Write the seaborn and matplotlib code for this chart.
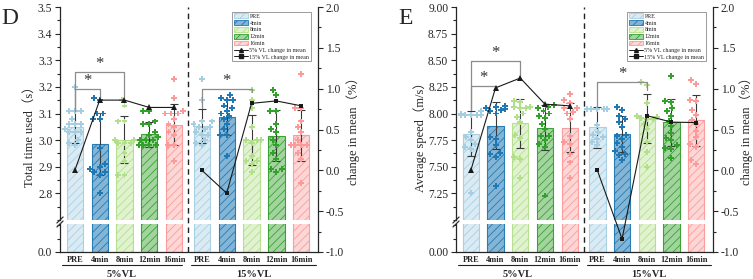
import numpy as np
import pandas as pd
import matplotlib
matplotlib.use("Agg")
import matplotlib.pyplot as plt
import matplotlib.transforms as mtransforms
from matplotlib.patches import Patch
from matplotlib.lines import Line2D
from matplotlib.ticker import MultipleLocator, FixedLocator, FormatStrFormatter
import seaborn as sns

# ---------------- DATA ----------------
conds = ["PRE", "4min", "8min", "12min", "16min"]
groups = ["5%VL", "15%VL"]
xpos_5 = [0, 1, 2, 3, 4]
xpos_15 = [5.12, 6.12, 7.12, 8.12, 9.12]

# panel D: total time used (s)
time_mean_5 = [3.049, 2.986, 3.002, 3.022, 3.058]
time_sd_5 = [0.060, 0.117, 0.087, 0.047, 0.077]
time_mean_15 = [3.053, 3.086, 3.000, 3.017, 3.018]
time_sd_15 = [0.065, 0.067, 0.093, 0.097, 0.095]
time_chg_5 = [0.0, 0.86, 0.86, 0.77, 0.77]
time_chg_15 = [0.0, -0.28, 0.82, 0.85, 0.79]
time_pts_5 = [
    [3.20, 3.11, 3.11, 3.11, 3.08, 3.06, 3.06, 3.06, 3.04, 3.03, 3.03, 3.03, 3.00, 2.99, 2.98],
    [3.16, 3.15, 3.10, 3.10, 3.08, 3.08, 2.97, 2.91, 2.90, 2.89, 2.88, 2.88, 2.87, 2.80],
    [3.15, 3.13, 3.07, 3.07, 3.00, 3.00, 2.99, 2.99, 2.99, 2.95, 2.92, 2.87, 2.87],
    [3.11, 3.11, 3.07, 3.06, 3.06, 3.03, 3.02, 3.01, 3.00, 3.00, 3.00, 2.98, 2.98, 2.98, 2.98],
    [3.23, 3.16, 3.11, 3.10, 3.10, 3.10, 3.08, 3.06, 3.05, 3.03, 3.02, 2.98, 2.98, 2.92],
]
time_pts_15 = [
    [3.23, 3.15, 3.07, 3.07, 3.06, 3.05, 3.05, 3.04, 3.03, 3.02, 3.02, 3.00, 2.99, 2.98],
    [3.17, 3.16, 3.15, 3.15, 3.13, 3.12, 3.11, 3.10, 3.09, 3.08, 3.06, 3.04, 3.02, 3.02, 2.94],
    [3.19, 3.15, 3.12, 3.05, 3.00, 3.00, 3.00, 2.99, 2.94, 2.92, 2.92, 2.91, 2.88],
    [3.19, 3.17, 3.11, 3.11, 3.06, 3.04, 3.03, 3.00, 2.98, 2.95, 2.93, 2.89, 2.89, 2.88],
    [3.25, 3.12, 3.12, 3.07, 3.05, 3.03, 3.00, 2.98, 2.98, 2.98, 2.98, 2.95, 2.93, 2.84],
]
# (from idx, to idx, top, bottom at from, bottom at to)
time_brackets = [(0, 1, 3.193, 3.11, 3.16), (0, 2, 3.257, 3.11, 3.16), (5, 7, 3.193, 3.12, 3.18)]

# panel E: average speed (m/s)
speed_mean_5 = [7.810, 7.884, 7.907, 7.866, 7.866]
speed_sd_5 = [0.21, 0.22, 0.228, 0.21, 0.228]
speed_mean_15 = [7.869, 7.806, 7.954, 7.916, 7.938]
speed_sd_15 = [0.19, 0.17, 0.23, 0.22, 0.24]
speed_chg_5 = [0.0, 1.01, 1.13, 0.81, 0.79]
speed_chg_15 = [0.0, -0.84, 0.67, 0.59, 0.585]
speed_pts_5 = [
    [8.02, 8.00, 7.99, 7.99, 7.99, 7.99, 7.99, 7.83, 7.78, 7.75, 7.71, 7.69, 7.67, 7.25],
    [8.07, 8.06, 8.05, 8.05, 8.04, 8.03, 8.02, 8.00, 7.78, 7.76, 7.70, 7.63, 7.62, 7.59, 7.32],
    [8.12, 8.11, 8.06, 8.06, 8.05, 8.05, 8.00, 7.97, 7.92, 7.80, 7.77, 7.59, 7.57, 7.39],
    [8.08, 8.06, 8.05, 8.02, 8.00, 7.98, 7.96, 7.90, 7.85, 7.79, 7.79, 7.75, 7.71, 7.69, 7.23],
    [8.18, 8.13, 8.10, 8.05, 8.05, 8.01, 8.00, 7.95, 7.79, 7.73, 7.71, 7.62, 7.54, 7.39],
]
speed_pts_15 = [
    [8.04, 8.04, 8.04, 8.04, 8.04, 8.04, 7.89, 7.83, 7.80, 7.78, 7.76, 7.73, 7.70],
    [8.06, 8.03, 7.98, 7.95, 7.92, 7.87, 7.80, 7.79, 7.76, 7.72, 7.69, 7.65, 7.62, 7.61, 7.56],
    [8.30, 8.27, 8.10, 7.98, 7.97, 7.96, 7.95, 7.95, 7.90, 7.85, 7.73, 7.64, 7.50],
    [8.35, 8.12, 8.11, 8.05, 8.02, 7.98, 7.93, 7.88, 7.82, 7.77, 7.75, 7.70, 7.68, 7.67, 7.58],
    [8.31, 8.28, 8.13, 8.12, 8.03, 7.99, 7.94, 7.90, 7.84, 7.78, 7.71, 7.69, 7.56, 7.53],
]
speed_brackets = [(0, 1, 8.26, 8.03, 8.25), (0, 2, 8.49, 8.03, 8.34), (5, 7, 8.30, 8.06, 8.22)]

# ---------------- STYLE ----------------
W, H = 753, 279
sns.set_style("ticks")
plt.rcParams["font.family"] = ["Liberation Serif", "DejaVu Serif"]
plt.rcParams["hatch.linewidth"] = 0.6
plt.rcParams["axes.linewidth"] = 0.9

pal = sns.color_palette("Paired", 5)
face_alpha = [0.40, 0.55, 0.40, 0.45, 0.40]
XLIM = (-0.6, 9.8)
SPLIT = (xpos_5[-1] + xpos_15[0]) / 2
LABEL_FONT = ["Liberation Serif", "Noto Sans CJK SC"]


def rect(l, r, top, bot):
    return [l / W, 1 - bot / H, (r - l) / W, (bot - top) / H]


def style_bars(ax, xpos):
    for p in ax.patches:
        cx = p.get_x() + p.get_width() / 2
        i = int(np.argmin(np.abs(np.array(xpos) - cx))) % 5
        c = pal[i]
        p.set_facecolor((*c, face_alpha[i]))
        p.set_edgecolor((*c, 0.95))
        p.set_linewidth(0.8)
        p.set_hatch("////")


def draw_panel(l, r, letter, ylabel, ylab_dx, means, sds, pts, chg5, chg15,
               ylim_up, ylim_lo, major, minor, fmt, lo_minor, brackets):
    xpos = xpos_5 + xpos_15
    bar_df = pd.DataFrame({"x": xpos, "y": means, "cond": conds * 2})
    pt_x, pt_y, pt_c = [], [], []
    for k, vals in enumerate(pts):
        pt_x += [xpos[k]] * len(vals)
        pt_y += vals
        pt_c += [conds[k % 5]] * len(vals)
    pt_df = pd.DataFrame({"x": pt_x, "y": pt_y, "cond": pt_c})

    ax_up = fig.add_axes(rect(l, r, 7, 220))
    ax_lo = fig.add_axes(rect(l, r, 224, 252))
    ax_r = fig.add_axes(rect(l, r, 7, 252))

    for ax in (ax_up, ax_lo):
        sns.barplot(data=bar_df, x="x", y="y", hue="cond", hue_order=conds, palette=pal,
                    native_scale=True, dodge=False, width=0.66, errorbar=None,
                    legend=False, ax=ax)
        style_bars(ax, xpos)
        ax.set_xlim(*XLIM)
        ax.set_xlabel("")
        ax.set_ylabel("")
        for s in ("top", "right"):
            ax.spines[s].set_visible(False)
        ax.tick_params(axis="y", which="major", direction="out", length=3.5, width=0.8,
                       labelsize=8.3, pad=2)
        ax.tick_params(axis="y", which="minor", direction="out", length=2, width=0.8)

    ax_up.errorbar(xpos, means, yerr=sds, fmt="none", ecolor="#3a3a3a", elinewidth=0.8,
                   capsize=2.8, capthick=0.8, zorder=4)
    sns.swarmplot(data=pt_df, x="x", y="y", hue="cond", hue_order=conds, palette=pal,
                  native_scale=True, marker="P", size=4.3, linewidth=0, legend=False,
                  ax=ax_up, zorder=5)
    ax_up.set_xlim(*XLIM)
    ax_up.set_ylim(*ylim_up)
    ax_up.set_xlabel("")
    ax_up.set_ylabel("")
    ax_up.spines["bottom"].set_visible(False)
    ax_up.tick_params(axis="x", bottom=False, labelbottom=False)
    ax_up.yaxis.set_major_locator(FixedLocator(major))
    ax_up.yaxis.set_minor_locator(MultipleLocator(minor))
    ax_up.yaxis.set_major_formatter(FormatStrFormatter(fmt))

    ax_lo.set_ylim(*ylim_lo)
    ax_lo.yaxis.set_major_locator(FixedLocator([0]))
    ax_lo.yaxis.set_minor_locator(MultipleLocator(lo_minor))
    ax_lo.yaxis.set_major_formatter(FormatStrFormatter(fmt))
    ax_lo.set_xticks(xpos)
    ax_lo.set_xticklabels(conds * 2, fontweight="bold", fontsize=6)
    ax_lo.tick_params(axis="x", length=0, pad=3)

    # significance brackets
    for i, j, top, b0, b1 in brackets:
        ax_up.plot([xpos[i], xpos[i], xpos[j], xpos[j]], [b0, top, top, b1],
                   color="#8c8c8c", lw=0.9, zorder=6)
        ax_up.text((xpos[i] + xpos[j]) / 2, top, "*", ha="center", va="bottom",
                   fontsize=12, color="#333333", zorder=6)

    # axis break marks
    d = 0.012
    for ax, yy in ((ax_up, 0), (ax_lo, 1)):
        h = 3.0 / ax.get_position().height / H
        ax.plot([-d, d], [yy - h, yy + h], transform=ax.transAxes, color="#333333",
                lw=0.9, clip_on=False)

    # group labels below axis
    tr = mtransforms.blended_transform_factory(ax_lo.transData, ax_lo.transAxes)
    for g, x0, x1 in ((groups[0], xpos_5[0] - 0.5, xpos_5[-1] + 0.3),
                      (groups[1], xpos_15[0] - 0.42, XLIM[1] - 0.1)):
        ax_lo.plot([x0, x1], [-0.47, -0.47], transform=tr, color="#222222", lw=0.8,
                   clip_on=False)
        ax_lo.text((x0 + x1) / 2, -0.79, g, transform=tr, ha="center", va="center",
                   fontsize=7.5, fontweight="bold")

    # right axis: change in mean
    ax_r.patch.set_visible(False)
    sns.lineplot(x=xpos_5, y=chg5, ax=ax_r, color="#1a1a1a", lw=0.8, marker="^",
                 markersize=3.8, markeredgewidth=0)
    sns.lineplot(x=xpos_15, y=chg15, ax=ax_r, color="#1a1a1a", lw=0.8, marker="s",
                 markersize=3.2, markeredgewidth=0)
    ax_r.axvline(SPLIT, color="#222222", ls=(0, (4, 3)), lw=1.0)
    ax_r.set_xlim(*XLIM)
    ax_r.set_ylim(-1.0, 2.0)
    for s in ("top", "left", "bottom"):
        ax_r.spines[s].set_visible(False)
    ax_r.tick_params(axis="x", bottom=False, labelbottom=False)
    ax_r.yaxis.tick_right()
    ax_r.yaxis.set_major_locator(MultipleLocator(0.5))
    ax_r.yaxis.set_minor_locator(MultipleLocator(0.25))
    ax_r.yaxis.set_major_formatter(FormatStrFormatter("%.1f"))
    ax_r.tick_params(axis="y", which="major", direction="out", length=3.5, width=0.8,
                     labelsize=8.3, pad=2)
    ax_r.tick_params(axis="y", which="minor", direction="out", length=2, width=0.8)

    handles = [Patch(facecolor=(*pal[i], face_alpha[i]), edgecolor=pal[i], hatch="////",
                     linewidth=0.6, label=conds[i]) for i in range(5)]
    handles += [Line2D([0], [0], color="#1a1a1a", lw=0.7, marker="^", markersize=2.8,
                       label="5% VL change in mean"),
                Line2D([0], [0], color="#1a1a1a", lw=0.7, marker="s", markersize=2.4,
                       label="15% VL change in mean")]
    leg = ax_r.legend(handles=handles, loc="upper right", bbox_to_anchor=(0.985, 0.993),
                      fontsize=4.3, frameon=True, fancybox=False, framealpha=1,
                      edgecolor="#8c8c8c", borderpad=0.3, labelspacing=0.22,
                      handlelength=2.3, handleheight=0.85, handletextpad=0.3)
    leg.get_frame().set_linewidth(0.6)

    fig.text((l - ylab_dx) / W, 1 - 134 / H, ylabel, rotation=90, ha="center",
             va="center", fontsize=9, family=LABEL_FONT)
    fig.text(min(r + 35, W - 7) / W, 1 - 128 / H, "change in mean（%）", rotation=90,
             ha="center", va="center", fontsize=9, family=LABEL_FONT)
    fig.text((l - 50) / W, 1 - 18 / H, letter, ha="center", va="center", fontsize=17)


fig = plt.figure(figsize=(W / 100, H / 100), dpi=100)

draw_panel(60, 318, "D", "Total time used（s）", 30,
           time_mean_5 + time_mean_15, time_sd_5 + time_sd_15, time_pts_5 + time_pts_15,
           time_chg_5, time_chg_15,
           (2.70, 3.5), (0, 0.105), [2.8, 2.9, 3.0, 3.1, 3.2, 3.3, 3.4, 3.5], 0.05, "%.1f",
           0.05, time_brackets)
draw_panel(456, 713, "E", "Average speed（m/s）", 36,
           speed_mean_5 + speed_mean_15, speed_sd_5 + speed_sd_15, speed_pts_5 + speed_pts_15,
           speed_chg_5, speed_chg_15,
           (7.0, 9.0), (0, 0.26), [7.25, 7.5, 7.75, 8.0, 8.25, 8.5, 8.75, 9.0], 0.125, "%.2f",
           0.125, speed_brackets)

fig.savefig("out.png", dpi=100)
